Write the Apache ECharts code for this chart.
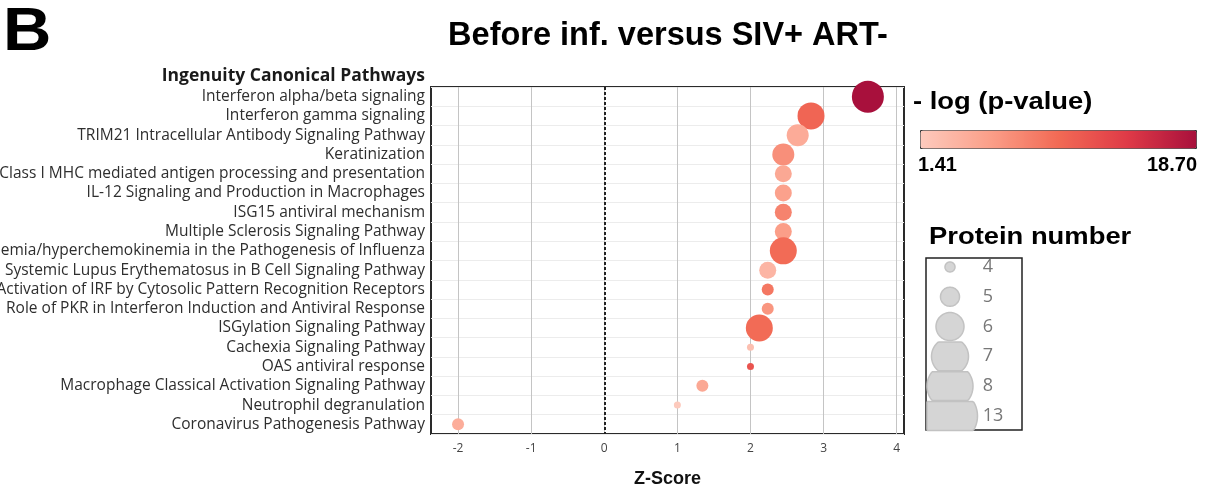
<!DOCTYPE html>
<html>
<head>
<meta charset="utf-8">
<title>Before inf. versus SIV+ ART-</title>
<script src="https://cdn.jsdelivr.net/npm/echarts@6/dist/echarts.min.js"></script>
<style>
  html, body { margin: 0; padding: 0; background: #fff; }
  #chart { width: 1215px; height: 488px; }
</style>
</head>
<body>
<div id="chart"></div>
<script>
// Ingenuity canonical pathways, top to bottom
const pathways = [
  'Interferon alpha/beta signaling',
  'Interferon gamma signaling',
  'TRIM21 Intracellular Antibody Signaling Pathway',
  'Keratinization',
  'Class I MHC mediated antigen processing and presentation',
  'IL-12 Signaling and Production in Macrophages',
  'ISG15 antiviral mechanism',
  'Multiple Sclerosis Signaling Pathway',
  'Hypercytokinemia/hyperchemokinemia in the Pathogenesis of Influenza',
  'Systemic Lupus Erythematosus in B Cell Signaling Pathway',
  'Activation of IRF by Cytosolic Pattern Recognition Receptors',
  'Role of PKR in Interferon Induction and Antiviral Response',
  'ISGylation Signaling Pathway',
  'Cachexia Signaling Pathway',
  'OAS antiviral response',
  'Macrophage Classical Activation Signaling Pathway',
  'Neutrophil degranulation',
  'Coronavirus Pathogenesis Pathway'
];

// activation z-score per pathway
const zScores = [3.606, 2.828, 2.646, 2.449, 2.449, 2.449, 2.449, 2.449, 2.449,
                 2.236, 2.236, 2.236, 2.121, 2.0, 2.0, 1.342, 1.0, -2.0];

// -log(p-value) per pathway
const negLogP = [18.70, 10.5, 4.5, 7.0, 4.8, 5.5, 8.0, 5.8, 10.0,
                 3.5, 9.0, 6.5, 10.0, 2.5, 12.0, 4.8, 1.41, 4.3];

// number of proteins in each pathway
const proteinCounts = [13, 8, 7, 7, 6, 6, 6, 6, 8, 6, 5, 5, 8, 4, 4, 5, 4, 5];

// protein-number size legend entries
const legendCounts = [4, 5, 6, 7, 8, 13];

// z-score axis ticks
const zTicks = [-2, -1, 0, 1, 2, 3, 4];

const pMin = Math.min(...negLogP);
const pMax = Math.max(...negLogP);

// bubble diameter grows by rank of the protein count among the legend steps
function rankOf(n) { return legendCounts.indexOf(n); }
function plotSize(n) { return 7 + 5 * rankOf(n); }
function legendSize(n) { return 10 + 9 * rankOf(n); }

const bubbleData = pathways.map((p, i) => [zScores[i], p, negLogP[i], proteinCounts[i]]);
const legendData = legendCounts.map((n, i) => [0.25, i, n]);

const chart = echarts.init(document.getElementById('chart'), null, { renderer: 'canvas' });

const labelFont = "'Open Sans', 'Noto Sans', sans-serif";
const headFont = "'Liberation Sans', Arial, sans-serif";

chart.setOption({
  animation: false,
  backgroundColor: '#ffffff',
  grid: [
    { left: 431, top: 87, width: 473, height: 347, show: true, borderColor: '#2a2a2a', borderWidth: 2,
      backgroundColor: '#fff', containLabel: false, outerBoundsMode: 'none' },
    { left: 926, top: 258, width: 96, height: 172, show: true, borderColor: '#222', borderWidth: 1.5,
      backgroundColor: '#fff', containLabel: false, outerBoundsMode: 'none' }
  ],
  xAxis: [
    {
      gridIndex: 0, type: 'value', min: -2.37, max: 4.1,
      axisLine: { show: false },
      axisTick: { show: false, customValues: zTicks },
      axisLabel: { customValues: zTicks, color: '#444', fontSize: 12, fontFamily: labelFont, margin: 9 },
      splitLine: { show: true, lineStyle: { color: '#c4c4c4', width: 1 } },
      name: 'Z-Score', nameLocation: 'middle', nameGap: 36,
      nameTextStyle: { fontFamily: headFont, fontWeight: 'bold', fontSize: 18, color: '#111' }
    },
    { gridIndex: 1, type: 'value', min: 0, max: 1, show: false }
  ],
  yAxis: [
    {
      gridIndex: 0, type: 'category', data: pathways, inverse: true,
      axisLine: { show: false }, axisTick: { show: false },
      axisLabel: { interval: 0, color: '#2e2e2e', fontSize: 15.5, fontFamily: labelFont, margin: 6 },
      splitLine: { show: true, interval: 0, lineStyle: { color: '#ececec', width: 1 } }
    },
    { gridIndex: 1, type: 'value', min: -0.3, max: 5.47, inverse: true, show: false }
  ],
  visualMap: {
    type: 'continuous', seriesIndex: 0, dimension: 2,
    min: pMin, max: pMax, orient: 'horizontal',
    left: 920, top: 130, itemWidth: 18, itemHeight: 276,
    calculable: false, hoverLink: false, text: null, showLabel: false,
    padding: 0, borderColor: '#333', borderWidth: 1,
    inRange: { color: ['#fdcabd', '#fb9f89', '#f26a55', '#df3a47', '#a8103c'] }
  },
  series: [
    {
      type: 'scatter', xAxisIndex: 0, yAxisIndex: 0,
      data: bubbleData,
      encode: { x: 0, y: 1 },
      symbolSize: (v) => plotSize(v[3]),
      itemStyle: { opacity: 1 },
      z: 5,
      markLine: {
        silent: true, symbol: 'none', label: { show: false },
        lineStyle: { color: '#222', type: [3, 2], width: 2 },
        data: [{ xAxis: 0 }]
      }
    },
    {
      type: 'custom', xAxisIndex: 1, yAxisIndex: 1,
      data: legendData,
      encode: { x: 0, y: 1 },
      renderItem(params, api) {
        const c = api.coord([api.value(0), api.value(1)]);
        const band = api.size([0, 1])[1];
        const cs = params.coordSys;
        const r = legendSize(api.value(2)) / 2;
        const top = c[1] - band / 2 + 0.5, bottom = c[1] + band / 2 - 0.5;
        const pts = [];
        for (let k = 0; k < 72; k++) {
          const a = (k / 72) * Math.PI * 2;
          let px = c[0] + r * Math.cos(a);
          let py = c[1] + r * Math.sin(a);
          px = Math.max(px, cs.x + 1);
          py = Math.min(Math.max(py, top), bottom);
          pts.push([px, py]);
        }
        return {
          type: 'group',
          children: [
            { type: 'polygon', shape: { points: pts },
              style: { fill: '#d5d5d5', stroke: '#c2c2c2', lineWidth: 1.5 } },
            { type: 'text', x: cs.x + cs.width * 0.59, y: c[1],
              style: { text: String(api.value(2)), fill: '#777', font: "18px " + labelFont,
                       textAlign: 'left', textVerticalAlign: 'middle' } }
          ]
        };
      }
    }
  ],
  graphic: [
    { type: 'text', x: 3, y: 33, scaleX: 1.08, originX: 0,
      style: { text: 'B', font: 'bold 62px ' + headFont, fill: '#000', textVerticalAlign: 'middle' } },
    { type: 'text', x: 668, y: 36,
      style: { text: 'Before inf. versus SIV+ ART-', font: 'bold 32.5px ' + headFont, fill: '#000',
               textAlign: 'center', textVerticalAlign: 'middle' } },
    { type: 'text', x: 425, y: 76,
      style: { text: 'Ingenuity Canonical Pathways', font: 'bold 17.5px ' + labelFont, fill: '#1a1a1a',
               textAlign: 'right', textVerticalAlign: 'middle' } },
    { type: 'text', x: 913, y: 102, scaleX: 1.14, originX: 0,
      style: { text: '- log (p-value)', font: 'bold 24px ' + headFont, fill: '#000', textVerticalAlign: 'middle' } },
    { type: 'text', x: 918, y: 165,
      style: { text: pMin.toFixed(2), font: 'bold 20px ' + headFont, fill: '#000', textVerticalAlign: 'middle' } },
    { type: 'text', x: 1197, y: 165,
      style: { text: pMax.toFixed(2), font: 'bold 20px ' + headFont, fill: '#000',
               textAlign: 'right', textVerticalAlign: 'middle' } },
    { type: 'text', x: 929, y: 238, scaleX: 1.19, originX: 0,
      style: { text: 'Protein number', font: 'bold 23px ' + headFont, fill: '#000', textVerticalAlign: 'middle' } }
  ]
});
</script>
</body>
</html>
